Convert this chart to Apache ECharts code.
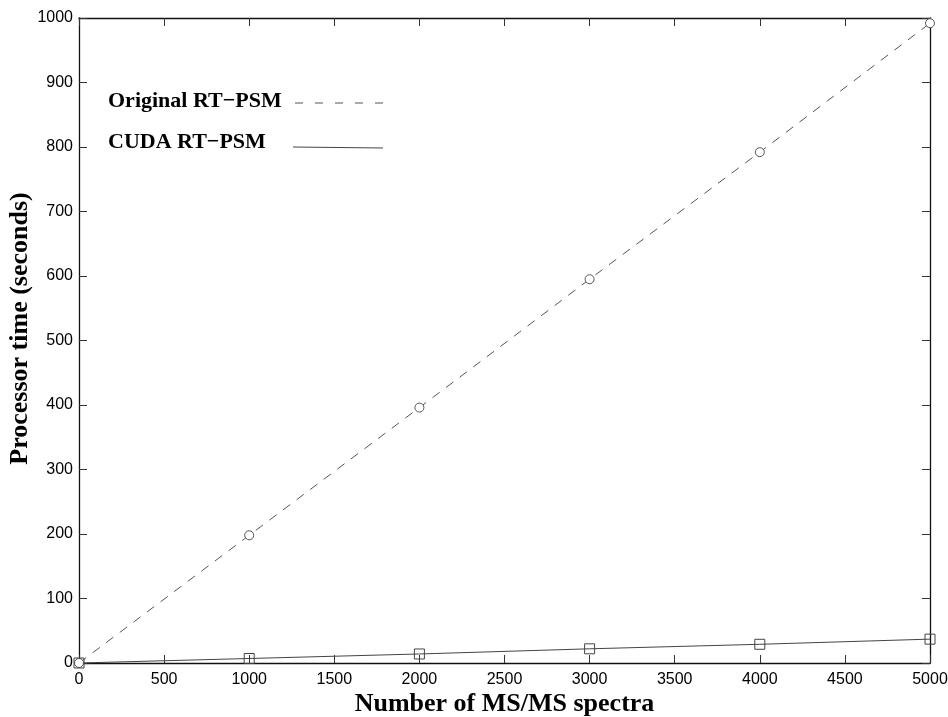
<!DOCTYPE html>
<html>
<head>
<meta charset="utf-8">
<script src="https://cdn.jsdelivr.net/npm/echarts@6/dist/echarts.min.js"></script>
<style>
  html, body { margin: 0; padding: 0; background: #fff; }
  #chart { width: 948px; height: 717px; }
</style>
</head>
<body>
<div id="chart"></div>
<script>
// Number of MS/MS spectra processed
const spectraCounts = [0, 1000, 2000, 3000, 4000, 5000];
// Processor time in seconds for each implementation
const originalTimes = [0, 198, 396, 595, 792, 992];
const cudaTimes = [0, 7, 14, 22, 29, 37];
const seriesNames = ['Original RT\u2212PSM', 'CUDA RT\u2212PSM'];

const serif = '"Liberation Serif", "DejaVu Serif", serif';
const sans = '"Liberation Sans", Arial, sans-serif';

const chart = echarts.init(document.getElementById('chart'));

function pairs(ys) {
  return spectraCounts.map((x, i) => [x, ys[i]]);
}

const axisLineStyle = { color: '#111', width: 1.3 };
const tick = { show: true, inside: true, length: 8, lineStyle: { color: '#333', width: 1 } };
const plain = v => String(v);

chart.setOption({
  backgroundColor: '#fff',
  animation: false,
  grid: {
    left: 79, right: 18, top: 18, bottom: 54,
    outerBoundsMode: 'none',
    containLabel: false,
    show: false
  },
  xAxis: [
    {
      type: 'value', min: 0, max: 5000, interval: 500,
      name: 'Number of MS/MS spectra',
      nameLocation: 'middle', nameGap: 28, nameMoveOverlap: false,
      nameTextStyle: { fontFamily: serif, fontWeight: 'bold', fontSize: 26, color: '#000', verticalAlign: 'top' },
      axisLine: { show: true, onZero: false, lineStyle: axisLineStyle },
      axisTick: tick,
      axisLabel: { fontFamily: sans, fontSize: 16, color: '#000', margin: 9, formatter: plain },
      splitLine: { show: false }
    },
    {
      type: 'value', min: 0, max: 5000, interval: 500, position: 'top',
      axisLine: { show: true, onZero: false, lineStyle: axisLineStyle },
      axisTick: tick,
      axisLabel: { show: false },
      splitLine: { show: false }
    }
  ],
  yAxis: [
    {
      type: 'value', min: 0, max: 1000, interval: 100,
      name: 'Processor time (seconds)',
      nameLocation: 'middle', nameGap: 46, nameRotate: 90, nameMoveOverlap: false,
      nameTextStyle: { fontFamily: serif, fontWeight: 'bold', fontSize: 26, color: '#000', padding: [0, 0, 0, 24] },
      axisLine: { show: true, onZero: false, lineStyle: axisLineStyle },
      axisTick: tick,
      axisLabel: { fontFamily: sans, fontSize: 16, color: '#000', margin: 6, formatter: plain },
      splitLine: { show: false }
    },
    {
      type: 'value', min: 0, max: 1000, interval: 100, position: 'right',
      axisLine: { show: true, onZero: false, lineStyle: axisLineStyle },
      axisTick: tick,
      axisLabel: { show: false },
      splitLine: { show: false }
    }
  ],
  series: [
    {
      name: seriesNames[0],
      type: 'line',
      data: pairs(originalTimes),
      symbol: 'circle', symbolSize: 9,
      showAllSymbol: true,
      clip: false,
      itemStyle: { color: '#fff', borderColor: '#555', borderWidth: 1 },
      lineStyle: { color: '#555', width: 1, type: [9, 8] },
      z: 3
    },
    {
      name: seriesNames[1],
      type: 'line',
      data: pairs(cudaTimes),
      symbol: 'rect', symbolSize: 10,
      showAllSymbol: true,
      clip: false,
      itemStyle: { color: 'rgba(255,255,255,0)', borderColor: '#444', borderWidth: 1 },
      lineStyle: { color: '#444', width: 1 },
      z: 3
    }
  ],
  graphic: [
    // Legend entries: label on the left, line sample on the right
    { type: 'text', left: 108, top: 90,
      style: { text: seriesNames[0], font: 'bold 22px ' + serif, fill: '#000' } },
    { type: 'line', shape: { x1: 295, y1: 103, x2: 383, y2: 103 },
      style: { stroke: '#555', lineWidth: 1, lineDash: [8, 12] } },
    { type: 'text', left: 108, top: 131,
      style: { text: seriesNames[1], font: 'bold 22px ' + serif, fill: '#000' } },
    { type: 'line', shape: { x1: 293, y1: 147, x2: 383, y2: 148 },
      style: { stroke: '#444', lineWidth: 1 } }
  ]
});
</script>
</body>
</html>
